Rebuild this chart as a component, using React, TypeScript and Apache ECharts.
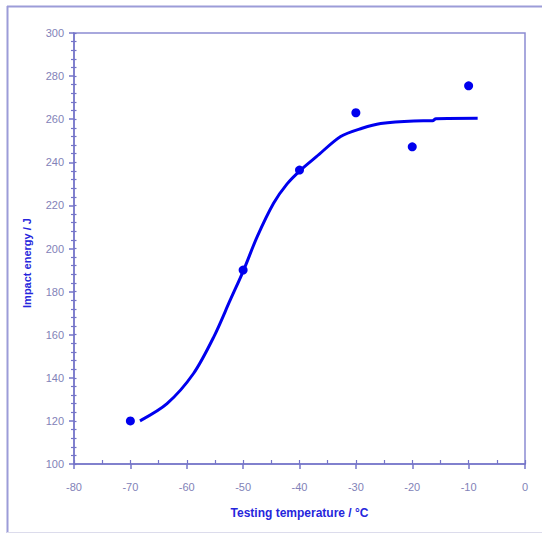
import React, { useEffect, useRef } from "react";
import * as echarts from "echarts";

const measuredTemps = [-70, -50, -40, -30, -20, -10];
const measuredEnergy = [120, 190, 236.4, 263, 247.2, 275.5];

const fitTemps = [-68.3, -63.5, -58.8, -55.2, -52.3, -49.9, -47.5, -44.6, -42.2, -39.8, -37, -32.7, -28.9, -25.6, -19.7, -16.4, -15.8, -8.4];
const fitEnergy = [120, 128, 142, 159, 176, 190, 205.5, 221, 230, 236.4, 242.6, 252, 255.8, 258, 259.2, 259.3, 260.2, 260.4];

const xTitle = "Testing temperature / °C";
const yTitle = "Impact energy / J";

export default function App() {
  const ref = useRef<HTMLDivElement>(null);
  useEffect(() => {
    if (!ref.current) return;
    const chart = echarts.init(ref.current, null, { renderer: "svg" });
    const axisColor = "#7474c8";
    const labelColor = "#8282b8";
    const titleColor = "#2626dc";
    const blue = "#0000ee";
    const grid = { left: 74, right: 17, top: 33, bottom: 76 };
    const font = "'Liberation Sans', Arial, sans-serif";
    chart.setOption({
      animation: false,
      backgroundColor: "#ffffff",
      grid: [
        { ...grid, show: true, borderColor: "#8c8cd2", borderWidth: 1.5, backgroundColor: "transparent" },
        { ...grid, show: false },
      ],
      graphic: [
        { type: "line", shape: { x1: 7, y1: 6.5, x2: 542, y2: 6.5 }, style: { stroke: "#9c9cd8", lineWidth: 2 }, silent: true },
        { type: "line", shape: { x1: 7.5, y1: 6, x2: 7.5, y2: 533 }, style: { stroke: "#9c9cd8", lineWidth: 2 }, silent: true },
        { type: "line", shape: { x1: 7, y1: 532.5, x2: 542, y2: 532.5 }, style: { stroke: "#dcdcec", lineWidth: 1 }, silent: true },
        {
          type: "text",
          x: 27,
          y: 263,
          rotation: Math.PI / 2,
          style: {
            text: yTitle,
            fill: titleColor,
            font: "bold 11px " + font,
            textAlign: "center",
            textVerticalAlign: "middle",
          },
        },
      ],
      xAxis: [
        {
          type: "value",
          gridIndex: 0,
          min: -80,
          max: 0,
          interval: 10,
          position: "bottom",
          name: xTitle,
          nameLocation: "middle",
          nameGap: 43,
          nameTextStyle: { color: titleColor, fontSize: 12, fontWeight: "bold", fontFamily: font },
          axisLine: { show: true, onZero: false, lineStyle: { color: axisColor, width: 1.5 } },
          axisTick: { show: true, inside: false, length: 5, lineStyle: { color: axisColor, width: 1.5 } },
          axisLabel: { color: labelColor, fontSize: 11, margin: 17, fontFamily: font },
          splitLine: { show: false },
        },
        {
          type: "value",
          gridIndex: 1,
          min: -80,
          max: 0,
          interval: 5,
          position: "bottom",
          axisLine: { show: false, onZero: false },
          axisTick: { show: true, inside: true, length: 4, lineStyle: { color: axisColor, width: 1.2 } },
          axisLabel: { show: false },
          splitLine: { show: false },
        },
      ],
      yAxis: [
        {
          type: "value",
          gridIndex: 0,
          min: 100,
          max: 300,
          interval: 20,
          position: "left",
          axisLine: { show: true, onZero: false, lineStyle: { color: axisColor, width: 1.5 } },
          axisTick: { show: true, inside: false, length: 5, lineStyle: { color: axisColor, width: 1.5 } },
          minorTick: { show: true, splitNumber: 5, length: 3, lineStyle: { color: axisColor, width: 1.2 } },
          axisLabel: { color: labelColor, fontSize: 11, margin: 10, fontFamily: font },
          splitLine: { show: false },
        },
        {
          type: "value",
          gridIndex: 1,
          min: 100,
          max: 300,
          interval: 4,
          position: "left",
          axisLine: { show: false, onZero: false },
          axisTick: { show: true, inside: true, length: 2.5, lineStyle: { color: axisColor, width: 1.2 } },
          axisLabel: { show: false },
          splitLine: { show: false },
        },
      ],
      series: [
        {
          type: "line",
          name: "fit",
          xAxisIndex: 0,
          yAxisIndex: 0,
          data: fitTemps.map((t, i) => [t, fitEnergy[i]]),
          smooth: 0.3,
          showSymbol: false,
          symbol: "none",
          lineStyle: { color: blue, width: 3 },
          z: 2,
        },
        {
          type: "scatter",
          name: "measured",
          xAxisIndex: 0,
          yAxisIndex: 0,
          data: measuredTemps.map((t, i) => [t, measuredEnergy[i]]),
          symbol: "circle",
          symbolSize: 9,
          itemStyle: { color: blue, opacity: 1 },
          z: 3,
        },
      ],
    });
    return () => chart.dispose();
  }, []);
  return <div ref={ref} style={{ position: "absolute", left: 0, top: 0, width: 542, height: 540 }} />;
}
